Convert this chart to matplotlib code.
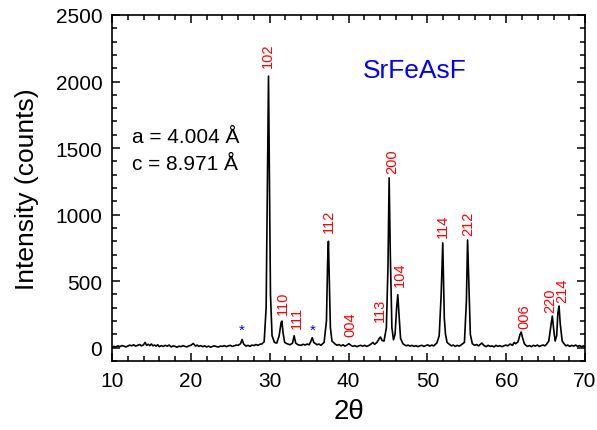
import numpy as np
import matplotlib
matplotlib.use("Agg")
import matplotlib.pyplot as plt
from matplotlib.ticker import MultipleLocator

plt.rcParams['font.family'] = ['Liberation Sans', 'DejaVu Sans']

# XRD trace (2theta, counts)
two_theta = [10.0, 10.25, 10.5, 10.75, 11.0, 11.25, 11.5, 11.75, 12.0, 12.25, 12.5, 12.75,
             13.0, 13.25, 13.5, 13.75, 14.0, 14.2, 14.4, 14.6, 14.8, 15.0, 15.2, 15.4,
             15.6, 15.8, 16.0, 16.25, 16.5, 16.75, 17.0, 17.25, 17.5, 17.75, 18.0, 18.25,
             18.5, 18.75, 19.0, 19.25, 19.5, 19.75, 20.0, 20.3, 20.6, 20.8, 21.0, 21.25,
             21.5, 21.75, 22.0, 22.25, 22.5, 22.75, 23.0, 23.25, 23.5, 23.75, 24.0, 24.25,
             24.5, 24.75, 25.0, 25.25, 25.5, 25.75, 26.0, 26.3, 26.5, 26.7, 27.0, 27.25,
             27.5, 27.75, 28.0, 28.25, 28.5, 28.75, 29.0, 29.3, 29.55, 29.75, 29.85,
             29.95, 30.1, 30.3, 30.6, 30.9, 31.2, 31.45, 31.55, 31.7, 31.9, 32.2, 32.6,
             32.9, 33.1, 33.3, 33.6, 34.0, 34.25, 34.5, 34.75, 35.0, 35.2, 35.4, 35.6, 36.0,
             36.25, 36.5, 36.9, 37.2, 37.35, 37.45, 37.55, 37.7, 37.9, 38.3, 38.55, 38.8,
             39.05, 39.3, 39.55, 39.8, 40.05, 40.3, 40.55, 40.8, 41.05, 41.3, 41.55, 41.8,
             42.05, 42.3, 42.55, 42.8, 43.1, 43.3, 43.6, 43.9, 44.05, 44.25,
             44.5, 44.8, 45.0, 45.15, 45.3, 45.5, 45.7, 45.9, 46.1, 46.25, 46.4, 46.6,
             46.9, 47.1, 47.3, 47.55, 47.8, 48.05, 48.3, 48.55, 48.8, 49.05, 49.3, 49.55,
             49.8, 50.05, 50.3, 50.55, 50.8, 51.0, 51.2, 51.5, 51.75,
             51.95, 52.05, 52.15, 52.3, 52.5, 52.8, 53.05, 53.3, 53.55, 53.8, 54.05, 54.3,
             54.7, 54.95, 55.1, 55.25, 55.45, 55.7, 56.0, 56.25, 56.5, 56.9, 57.2, 57.45,
             57.7, 57.95, 58.2, 58.45, 58.7, 58.95, 59.2, 59.45, 59.7, 59.95,
             60.2, 60.5, 60.8, 61.0, 61.2, 61.5, 61.75, 61.9, 62.05, 62.3, 62.5, 62.7, 62.95,
             63.2, 63.45, 63.7, 63.95, 64.2, 64.45, 64.7, 64.9, 65.1, 65.4, 65.7, 65.85,
             66.0, 66.2, 66.4, 66.55, 66.7, 66.85, 67.1, 67.4, 67.6, 67.8, 68.05, 68.3,
             68.55, 68.8, 69.05, 69.3, 69.55, 69.8, 70.0]
counts = [2, 10, 6, 14, 8, 16, 12, 6, 12, 20, 14, 22,
          12, 18, 24, 14, 22, 40, 18, 26, 16, 28, 14, 20,
          12, 22, 8, 16, 10, 18, 12, 20, 6, 14, 10, 4,
          12, 8, 16, 10, 6, 14, 18, 32, 12, 20, 10, 16,
          8, 14, 6, 12, 4, 10, 14, 8, 6, 12, 10, 16,
          8, 14, 18, 10, 14, 20, 18, 30, 62, 28, 12, 18,
          10, 20, 16, 24, 18, 26, 28, 45, 300, 1500, 2040,
          1400, 400, 90, 40, 35, 90, 190, 200, 110, 40, 30, 22,
          35, 90, 35, 22, 18, 26, 20, 28, 22, 45, 75, 40, 22,
          28, 18, 40, 200, 650, 800, 550, 150, 50, 28, 18, 24,
          14, 22, 12, 20, 30, 18, 10, 16, 8, 14, 18, 12,
          18, 10, 16, 25, 40, 25, 40, 70, 80, 55,
          50, 150, 600, 1276, 700, 150, 60, 100, 300, 398, 250, 70,
          30, 22, 14, 20, 12, 18, 10, 16, 8, 14, 18, 10,
          16, 22, 12, 20, 14, 24, 35, 90, 400,
          788, 500, 220, 100, 40, 25, 14, 20, 10, 18, 12, 22,
          40, 350, 810, 500, 100, 30, 18, 24, 14, 35, 16, 8,
          18, 10, 14, 6, 18, 10, 16, 8, 14, 20,
          14, 28, 18, 40, 30, 45, 100, 118, 80, 30, 18, 10, 16,
          8, 18, 12, 20, 10, 16, 20, 14, 25, 50, 180, 238,
          150, 50, 90, 260, 313, 180, 50, 25, 14, 20, 10, 18,
          12, 20, 10, 16, 8, 14, 6]

# Miller index labels: text, x, bottom of label
hkl = ['102', '110', '111', '112', '004', '113', '200', '104',
       '114', '212', '006', '220', '214']
hkl_x = [29.8, 31.65, 33.45, 37.45, 40.2, 44.0, 45.6, 46.5,
         52.0, 55.2, 62.25, 65.55, 67.05]
hkl_y = [2110, 255, 150, 870, 85, 200, 1310, 465,
         835, 845, 150, 272, 345]

# impurity markers
star_x = [26.5, 35.4]
star_y = [80, 80]

fig = plt.figure(figsize=(5.97, 4.31), dpi=100)
ax = fig.add_axes([0.1876, 0.160, 0.7924, 0.803])

ax.plot(two_theta, counts, color='black', lw=1.2)

for t, x, y in zip(hkl, hkl_x, hkl_y):
    ax.text(x, y, t, rotation=90, ha='center', va='bottom', color='red', fontsize=10.5)

for x, y in zip(star_x, star_y):
    ax.text(x, y, '*', ha='center', va='bottom', color='blue', fontsize=11)

ax.text(41.8, 2087, 'SrFeAsF', color='blue', fontsize=19, va='center', ha='left')
ax.text(12.6, 1584, 'a = 4.004 Å', fontsize=15, va='center', ha='left')
ax.text(12.6, 1381, 'c = 8.971 Å', fontsize=15, va='center', ha='left')

ax.set_xlim(10, 70)
ax.set_ylim(-100, 2500)
ax.xaxis.set_major_locator(MultipleLocator(10))
ax.xaxis.set_minor_locator(MultipleLocator(2))
ax.yaxis.set_major_locator(MultipleLocator(500))
ax.yaxis.set_minor_locator(MultipleLocator(100))
ax.tick_params(which='both', direction='in', top=True, right=True, width=1.1)
ax.tick_params(which='major', length=6, labelsize=15, pad=7)
ax.tick_params(which='minor', length=3.5)
for s in ax.spines.values():
    s.set_linewidth(1.2)

ax.set_xlabel('2θ', fontsize=20, labelpad=6)
ax.set_ylabel('Intensity (counts)', fontsize=19, labelpad=12)

fig.savefig('out.png', dpi=100)
